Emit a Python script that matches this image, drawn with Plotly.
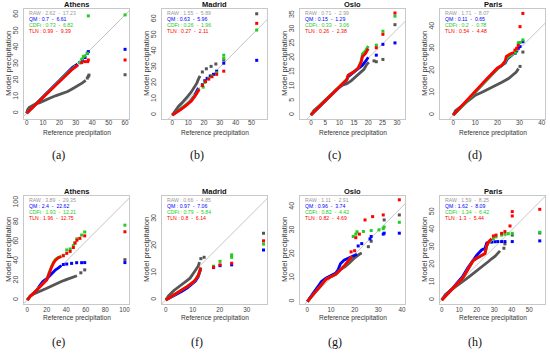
import plotly.graph_objects as go

# ---------------- data ----------------
TITLES = ["Athens", "Madrid", "Oslo", "Paris", "Athens", "Madrid", "Oslo", "Paris"]
LETTERS = ["(a)", "(b)", "(c)", "(d)", "(e)", "(f)", "(g)", "(h)"]
SERIES = ["RAW", "QM", "CDFt", "TLN"]

SCORES_A = ["2.62  -  17.23", "0.7  -  6.61", "0.73  -  6.82", "0.99  -  9.39"]
SCORES_B = ["1.55  -  5.89", "0.63  -  5.96", "0.26  -  1.96", "0.27  -  2.11"]
SCORES_C = ["0.71  -  2.99", "0.15  -  1.29", "0.33  -  3.06", "0.26  -  2.38"]
SCORES_D = ["1.71  -  8.07", "0.11  -  0.65", "0.2  -  0.78", "0.54  -  4.48"]
SCORES_E = ["3.89  -  29.35", "2.4  -  22.62", "1.93  -  12.21", "1.96  -  12.75"]
SCORES_F = ["0.66  -  4.85", "0.97  -  7.06", "0.79  -  5.84", "0.8  -  6.14"]
SCORES_G = ["1.11  -  2.91", "0.96  -  3.74", "0.82  -  4.42", "0.82  -  4.69"]
SCORES_H = ["1.59  -  8.25", "1.62  -  8.09", "1.34  -  6.42", "1.3  -  5.44"]

# (reference quantile, model quantile); *_TAIL = isolated upper quantiles
A_RAW = [(0, 0), (0.5, 2), (1.5, 3.5), (3, 4.5), (5, 5.5), (8, 6.5), (11, 8), (14, 9.2), (18, 10.8),
         (22, 12.3), (25, 13.3), (28, 15), (31, 16.5), (34, 18.5), (36, 20)]
A_RAW_TAIL = [(37, 21.5), (37.6, 22.5), (38, 23.3), (60, 23.5)]
A_QM = [(0, 0), (5, 5), (10, 10.2), (15, 15.2), (20, 20.2), (25, 25.2), (28, 28), (31, 30)]
A_QM_TAIL = [(32.5, 30.8), (34, 32), (35.6, 34), (37, 36.6), (37.6, 37.6), (60, 39)]
A_CDFT = [(0, 0), (5, 5), (10, 10), (15, 15), (20, 20), (25, 24.5), (30, 29)]
A_CDFT_TAIL = [(32.5, 31), (33.6, 33), (34.6, 34.6), (35.6, 35), (37, 36.6), (37.6, 59.4), (60, 60)]
A_TLN = [(0, 0), (5, 4.8), (10, 9.8), (15, 14.6), (20, 19.4), (25, 24.3), (28, 27), (31.5, 29.5)]
A_TLN_TAIL = [(33.6, 30.9), (35.6, 31.5), (37.2, 31.5), (37.6, 32.5), (60, 32.5)]

B_RAW = [(0, 0), (2, 3), (4, 5.5), (6, 7.5), (8, 9.5), (10, 12), (12, 14.5), (14, 17.5), (15.5, 20),
         (16.5, 22.5), (17.5, 24.5)]
B_RAW_TAIL = [(19, 27), (21.5, 29), (24.5, 30.5), (27.5, 32), (32.5, 34.5), (53.3, 63.5)]
B_QM = [(0, 0), (3, 2), (6, 4), (9, 6.5), (12, 9.5), (14, 12), (15.5, 15), (16.5, 17)]
B_QM_TAIL = [(19, 19), (20.5, 21.5), (22, 23), (24, 24.5), (26, 25.5), (28, 27.5), (32.5, 32.5), (53.3, 34.3)]
B_CDFT = [(0, 0), (3, 2), (6, 4), (9, 6.5), (12, 9), (14, 11.5), (16, 14.5), (17, 16.5)]
B_CDFT_TAIL = [(19.5, 17.5), (20.5, 20.5), (23, 23), (25, 24.5), (28, 26.5), (32.5, 35.5), (32.5, 37.5),
               (53.3, 53.3)]
B_TLN = [(0, 0), (3, 1.8), (6, 3.8), (9, 6.2), (12, 8.8), (14, 11.3), (16, 14.3), (17, 16.2)]
B_TLN_TAIL = [(19, 18.5), (21, 21), (23, 22.5), (25, 24), (28, 25.5), (32.5, 27.5), (53.3, 57.5)]

C_RAW = [(0, 0), (1, 1.5), (3, 3.3), (6, 6.2), (9, 9), (11, 10.5), (12.5, 11), (14, 12), (15.5, 13.3),
         (17, 14.5), (18.5, 16), (19.5, 17.8), (20.2, 18.5)]
C_RAW_TAIL = [(22, 19), (22.8, 18.7), (25.1, 19.5), (29.3, 31.7)]
C_QM = [(0, 0), (5, 5), (10, 10), (12.5, 12.3), (13, 13.5), (15, 15), (16.5, 16.2), (18, 17.5), (19, 18.8),
        (20, 20.3)]
C_QM_TAIL = [(22.8, 21), (25.1, 24.8), (29.3, 25.3)]
C_CDFT = [(0, 0), (5, 5), (10, 10), (12.5, 12.5), (13, 14), (15, 15.2), (16.5, 16.5), (17.5, 19), (18, 21.5),
          (19, 22.5), (20, 24.2)]
C_CDFT_TAIL = [(22.8, 24.5), (25.1, 29.4), (29.3, 34.7)]
C_TLN = [(0, 0), (5, 5), (10, 10), (12.5, 12.5), (13, 14), (15, 15.2), (16.5, 16.5), (17.5, 18.5), (18, 20.5),
         (19, 21.5), (20, 23.3)]
C_TLN_TAIL = [(22.8, 23.6), (25.1, 28.3), (29.3, 35.8)]

D_RAW = [(0, 0), (1, 2), (3, 3.5), (5, 5), (8, 7.5), (10, 9), (13, 10.3), (16, 11.8), (19, 13), (22, 14.8),
         (25, 16.5), (27, 18), (28.5, 19.5), (29.5, 21)]
D_RAW_TAIL = [(30.2, 22), (31.5, 28.5)]
D_QM = [(0, 0), (5, 5), (10, 10.5), (15, 16), (20, 21), (22, 22.5), (23.5, 23.5), (24.5, 25.5), (26, 26.5),
        (27, 27.5)]
D_QM_TAIL = [(28, 28), (28.7, 29), (29.4, 30.2), (30.2, 31), (31.5, 33.2)]
D_CDFT = [(0, 0), (5, 5), (10, 10.5), (15, 16), (20, 21), (22, 22.5), (23.5, 24), (24.5, 26), (26, 27),
          (27, 27.5)]
D_CDFT_TAIL = [(28, 28.2), (28.7, 29.5), (29.4, 32.7), (30.2, 32.8), (31.5, 34)]
D_TLN = [(0, 0), (5, 5.2), (10, 10.8), (15, 16.2), (20, 21.3), (22, 22.5), (23.5, 24.5), (24, 26.5),
         (25, 27.2), (26.4, 28), (27.5, 28.3)]
D_TLN_TAIL = [(27.9, 29.4), (28.7, 30.2), (29.4, 31.5), (30.2, 40), (31.5, 46)]

E_RAW = [(0, 0), (3, 4), (6, 6), (10, 7.5), (15, 10), (20, 12), (25, 14.5), (30, 17), (35, 19), (40, 21),
         (44, 22.3), (48, 24), (51, 25)]
E_RAW_TAIL = [(55, 28), (59, 31), (100.3, 41.5)]
E_QM = [(0, 0), (3, 4), (6, 6.5), (10, 10.5), (13, 15), (16, 19), (20, 22), (23, 25), (26, 28.5), (29, 31),
        (32, 33), (35, 35.5)]
E_QM_TAIL = [(37, 36.5), (40.5, 37), (45.5, 37.7), (50.7, 38.4), (55.8, 38.4), (59, 38.5), (100.3, 38.5)]
E_CDFT = [(0, 0), (3, 4), (6, 6.5), (10, 10.5), (13, 14), (16, 17), (20, 21), (22, 27), (23.5, 32), (25, 35),
          (27, 39), (29, 42), (32, 44), (35, 45)]
E_CDFT_TAIL = [(37, 46), (40.5, 51.5), (44, 52.5), (47.3, 56), (49, 59), (51, 63), (55.8, 66.8), (59, 70),
               (100.3, 77)]
E_TLN = [(0, 0), (3, 4), (6, 6.5), (10, 10.5), (13, 14), (16, 17), (20, 20.5), (22, 26), (23.5, 31), (25, 34),
         (27, 38), (29, 41), (32, 43.5), (35, 44.5)]
E_TLN_TAIL = [(37, 45.5), (40.5, 48), (44, 50), (47.3, 54), (49, 58.5), (51, 61.5), (54, 63.4), (59, 66),
              (100.3, 70.2)]

F_RAW = [(0, 0), (1, 1.5), (3, 3.5), (5, 5), (7, 6.5), (9, 8), (10, 9.5), (11, 11), (12, 12.5), (12.5, 14)]
F_RAW_TAIL = [(13, 15.3), (14.2, 15.8), (36.2, 24.7)]
F_QM = [(0, 0), (2, 1), (4, 2), (6, 3.2), (8, 4.5), (10, 6), (11, 7), (12, 8.5), (12.5, 10.5), (13, 11.5)]
F_QM_TAIL = [(17.7, 12), (20.1, 12.7), (24.4, 13), (36.2, 18.5)]
F_CDFT = [(0, 0), (2, 1.2), (4, 2.5), (6, 3.5), (8, 5), (10, 6.5), (11, 7.5), (12, 9), (12.5, 11), (13, 12)]
F_CDFT_TAIL = [(17.7, 12.5), (20.1, 14.3), (24.4, 15.8), (24.4, 16.7), (36.2, 20.7)]
F_TLN = [(0, 0), (2, 1.2), (4, 2.5), (6, 3.5), (8, 5), (10, 6.5), (11, 7.5), (12, 9), (12.5, 11), (13, 12)]
F_TLN_TAIL = [(17.7, 12.1), (20.1, 13), (24.4, 13.6), (36.2, 21.9)]

G_RAW = [(0, 0), (2, 3), (4, 5.5), (6, 7.5), (8, 9.5), (10, 11), (12, 12), (14, 13.5), (16, 14.8), (18, 16.5),
         (20, 18.5), (22, 20), (23, 20.5)]
G_RAW_TAIL = [(25.8, 23.2), (27, 25.5), (32.5, 34.5), (38.9, 36.6)]
G_QM = [(0, 0), (2, 3), (4, 6), (6, 8.5), (8, 10), (10, 11), (12, 12), (13, 13.5), (14, 16), (15.5, 17.5),
        (18, 18.8), (20, 19.5), (21, 20)]
G_QM_TAIL = [(21.5, 23.5), (23, 24.5), (26.5, 26.5), (27, 27.5), (32.1, 28.5), (32.5, 28.9), (38.9, 28.9)]
G_CDFT = [(0, 0), (2, 2.5), (4, 5), (6, 7.5), (8, 9.5), (10, 10.5), (12, 11.5), (14, 13.5), (16, 15.5),
          (18, 18), (19, 19)]
G_CDFT_TAIL = [(19.4, 27.5), (20.5, 28.5), (21, 29.5), (23.7, 29.6), (27, 30), (30.3, 30.3), (32.1, 30.8),
               (32.5, 31.5), (38.9, 33.5)]
G_TLN = [(0, 0), (2, 2.5), (4, 5), (6, 7.5), (8, 9.5), (10, 10.5), (12, 11.5), (14, 13.5), (16, 15.5),
         (18, 18), (19, 19)]
G_TLN_TAIL = [(18.5, 21), (20, 21.5), (20.5, 27), (22, 28.5), (24.4, 34.5), (27.6, 35.9), (32.1, 36.6),
              (38.9, 43)]

H_RAW = [(0, 0), (2, 3), (5, 5.5), (8, 7.5), (11, 10), (14, 12), (17, 14.3), (20, 16.5), (23, 19),
         (26.5, 21.8), (28.5, 23.5), (30.5, 25), (33.3, 28)]
H_RAW_TAIL = [(35.5, 29.5), (36.1, 32), (40.3, 37), (56, 38.2)]
H_QM = [(0, 0), (3, 3), (6, 6.5), (9, 10), (12, 13.5), (15, 18.5), (17, 21.5), (20, 25.5), (22.8, 28.5),
        (24.7, 29.5), (25.7, 32.5), (27, 32.8)]
H_QM_TAIL = [(28.5, 33), (30.4, 33.2), (32, 33.3), (34.2, 33.3), (36.1, 33.3), (40.3, 33.3), (56, 33.7)]
H_CDFT = [(0, 0), (3, 3), (6, 6.2), (9, 9.5), (12, 12.5), (15, 17.5), (18, 22.5), (20, 23.8), (22.8, 25.5),
          (24.7, 26.5), (25.7, 30.5), (26.6, 32.5), (28.5, 34.5)]
H_CDFT_TAIL = [(29.5, 35), (31, 36), (34.2, 37), (36.1, 37.5), (38, 37.8), (40.3, 38), (56, 38.6)]
H_TLN = [(0, 0), (3, 3), (6, 6.2), (9, 9.5), (12, 12.5), (15, 17.5), (18, 22.5), (20, 23.8), (22.8, 25.5),
         (24.7, 26.5), (25.7, 31), (26.6, 33), (28.5, 35)]
H_TLN_TAIL = [(29.5, 36.5), (31, 37), (34.2, 38), (36.1, 39), (39, 42.2), (40.3, 47.9), (40.3, 50.4),
              (56, 51.7)]

PANEL_SCORES = [SCORES_A, SCORES_B, SCORES_C, SCORES_D, SCORES_E, SCORES_F, SCORES_G, SCORES_H]
PANEL_DATA = [
    [(A_RAW, A_RAW_TAIL), (A_QM, A_QM_TAIL), (A_CDFT, A_CDFT_TAIL), (A_TLN, A_TLN_TAIL)],
    [(B_RAW, B_RAW_TAIL), (B_QM, B_QM_TAIL), (B_CDFT, B_CDFT_TAIL), (B_TLN, B_TLN_TAIL)],
    [(C_RAW, C_RAW_TAIL), (C_QM, C_QM_TAIL), (C_CDFT, C_CDFT_TAIL), (C_TLN, C_TLN_TAIL)],
    [(D_RAW, D_RAW_TAIL), (D_QM, D_QM_TAIL), (D_CDFT, D_CDFT_TAIL), (D_TLN, D_TLN_TAIL)],
    [(E_RAW, E_RAW_TAIL), (E_QM, E_QM_TAIL), (E_CDFT, E_CDFT_TAIL), (E_TLN, E_TLN_TAIL)],
    [(F_RAW, F_RAW_TAIL), (F_QM, F_QM_TAIL), (F_CDFT, F_CDFT_TAIL), (F_TLN, F_TLN_TAIL)],
    [(G_RAW, G_RAW_TAIL), (G_QM, G_QM_TAIL), (G_CDFT, G_CDFT_TAIL), (G_TLN, G_TLN_TAIL)],
    [(H_RAW, H_RAW_TAIL), (H_QM, H_QM_TAIL), (H_CDFT, H_CDFT_TAIL), (H_TLN, H_TLN_TAIL)],
]

# ---------------- layout / style ----------------
X_RANGES = [(-1.6, 62.4), (-6.5, 59.8), (-3.8, 32.8), (-6.0, 41.5),
            (-3.4, 104.5), (-1.4, 37.5), (-3.1, 41.3), (-1.0, 59.0)]
Y_RANGES = [(-3.5, 63.6), (-2.5, 66.5), (-1.4, 37.2), (-1.8, 48.0),
            (-4.1, 107.0), (-1.5, 38.5), (-1.0, 44.6), (-2.3, 59.3)]
DTICKS = [10, 10, 5, 10, 20, 10, 10, 10]

W, H = 550, 353
COL_LEFT = [24, 162, 300, 440]
BOX_W = 105
ROW_TOP = [9, 196]
ROW_H = [110, 108]

POINT_COLORS = ["#555555", "#0000ff", "#22cc22", "#ff0000"]
TEXT_COLORS = ["#999999", "#0000ff", "#22cc22", "#ff0000"]
DRAW_ORDER = [0, 1, 2, 3]
FONT = "Liberation Sans, Arial, sans-serif"

fig = go.Figure()
annotations = []


def px(x, y):
    return x / W, 1 - y / H


for i in range(8):
    r, c = divmod(i, 4)
    left = COL_LEFT[c]
    top = ROW_TOP[r]
    h = ROW_H[r]
    sfx = "" if i == 0 else str(i + 1)
    xa, ya = "x" + sfx, "y" + sfx
    xr, yr = X_RANGES[i], Y_RANGES[i]

    lo = min(xr[0], yr[0])
    hi = max(xr[1], yr[1])
    fig.add_trace(go.Scatter(x=[lo, hi], y=[lo, hi], mode="lines", xaxis=xa, yaxis=ya,
                             line=dict(color="#c4c4c4", width=1), hoverinfo="skip"))

    for k in DRAW_ORDER:
        body, tail = PANEL_DATA[i][k]
        fig.add_trace(go.Scatter(x=[p[0] for p in body], y=[p[1] for p in body], mode="lines",
                                 xaxis=xa, yaxis=ya, name=SERIES[k],
                                 line=dict(color=POINT_COLORS[k], width=2.8)))
        fig.add_trace(go.Scatter(x=[p[0] for p in tail], y=[p[1] for p in tail], mode="markers",
                                 xaxis=xa, yaxis=ya, name=SERIES[k],
                                 marker=dict(color=POINT_COLORS[k], size=3, symbol="square",
                                             line=dict(width=0))))

    axis_common = dict(showline=True, mirror=True, linecolor="#c8c8c8", linewidth=1,
                       showgrid=False, zeroline=False, ticks="", tick0=0, dtick=DTICKS[i])
    fig.layout["xaxis" + sfx] = dict(axis_common, domain=[left / W, (left + BOX_W) / W],
                                     range=list(xr), anchor=ya, ticklabelstandoff=-3 if r == 0 else -1,
                                     tickfont=dict(family=FONT, size=6.3, color="#444444"))
    fig.layout["yaxis" + sfx] = dict(axis_common, domain=[1 - (top + h) / H, 1 - top / H],
                                     range=list(yr), anchor=xa, tickangle=-90, ticklabelstandoff=2,
                                     tickfont=dict(family=FONT, size=7, color="#444444"))

    cx = left + BOX_W / 2
    # title
    x0, y0 = px(cx, top - 4.5)
    annotations.append(dict(x=x0, y=y0, xref="paper", yref="paper", text="<b>%s</b>" % TITLES[i],
                            showarrow=False, xanchor="center", yanchor="middle",
                            font=dict(family=FONT, size=7.5, color="#111111")))
    # y title
    x0, y0 = px(left - 15, top + h / 2)
    annotations.append(dict(x=x0, y=y0, xref="paper", yref="paper", text="Model precipitation",
                            textangle=-90, showarrow=False, xanchor="center", yanchor="middle",
                            font=dict(family=FONT, size=7.8, color="#333333")))
    # x title
    x0, y0 = px(cx, top + h + 14)
    annotations.append(dict(x=x0, y=y0, xref="paper", yref="paper", text="Reference precipitation",
                            showarrow=False, xanchor="center", yanchor="middle",
                            font=dict(family=FONT, size=6.6, color="#333333")))
    # legend lines
    for k in range(4):
        x0, y0 = px(left + 2.5, top + 4.3 + 5.9 * k)
        txt = (SERIES[k] + " : " + PANEL_SCORES[i][k]).replace(" ", "\u00a0")
        annotations.append(dict(x=x0, y=y0, xref="paper", yref="paper", text=txt,
                                showarrow=False, xanchor="left", yanchor="middle",
                                font=dict(family=FONT, size=5.2, color=TEXT_COLORS[k])))
    # panel letter
    x0, y0 = px(cx - 18, 155 if r == 0 else 342)
    annotations.append(dict(x=x0, y=y0, xref="paper", yref="paper", text=LETTERS[i],
                            showarrow=False, xanchor="center", yanchor="middle",
                            font=dict(family="Liberation Serif, Times New Roman, serif", size=12,
                                      color="#111111")))

fig.update_layout(width=W, height=H, margin=dict(l=0, r=0, t=0, b=0),
                  paper_bgcolor="white", plot_bgcolor="white", showlegend=False,
                  hovermode=False, annotations=annotations)

fig.write_html("out.html", config={"displayModeBar": False, "staticPlot": True},
               post_script="document.body.style.margin='0px';")
